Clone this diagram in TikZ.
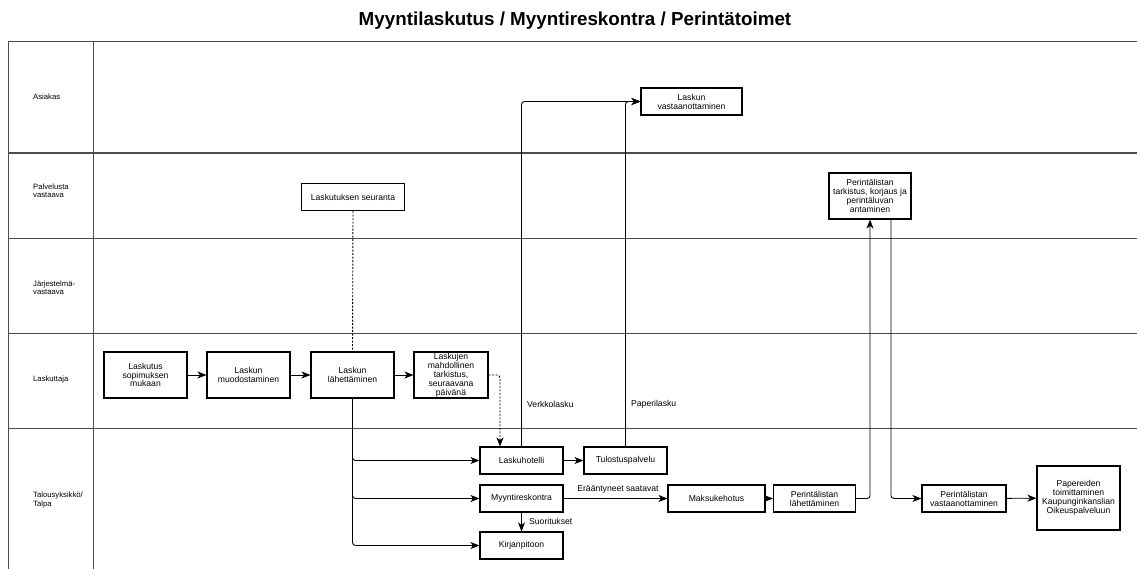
\documentclass[tikz,border=0pt]{standalone}
\usepackage{fontspec}
\setmainfont{Liberation Sans}
\usetikzlibrary{arrows.meta}
\begin{document}
\begin{tikzpicture}[x=1pt,y=-1pt,
  box/.style={draw,line width=1.1pt,align=center,inner sep=1pt,
    font=\fontsize{8.6}{8.9}\selectfont},
  lane/.style={draw=black!70,line width=1pt},
  lanelabel/.style={anchor=west,align=left,inner sep=0pt,
    font=\fontsize{7.7}{8.3}\selectfont},
  lbl/.style={inner sep=0pt,font=\fontsize{8.6}{9}\selectfont},
  tip/.style={-{Stealth[length=9pt,width=7pt,inset=2.5pt]}},
  conn/.style={line width=0.9pt,rounded corners=3pt},
  arr/.style={conn,tip},
  dots/.style={line width=0.9pt,dash pattern=on 2pt off 1.5pt}]
\useasboundingbox (0,0) rectangle (1137,568);

% title
\node[inner sep=0pt,font=\fontsize{18.8}{22}\bfseries\selectfont] (title) at (575,21)
  {Myyntilaskutus / Myyntireskontra / Perintätoimet};

% swimlanes
\draw[lane] (1140,41) -- (8,41) -- (8,570);
\draw[lane] (93,41) -- (93,570);
\draw[lane,line width=1.4pt] (8,153) -- (1140,153);
\foreach \yy in {238,333,428} \draw[lane] (8,\yy) -- (1140,\yy);

\node[lanelabel] (l1) at (33,97) {Asiakas};
\node[lanelabel] (l2) at (33,191) {Palvelusta\\vastaava};
\node[lanelabel] (l3) at (33,288) {Järjestelmä-\\vastaava};
\node[lanelabel] (l4) at (33,380) {Laskuttaja};
\node[lanelabel] (l5) at (33,500) {Talousyksikkö/\\Talpa};

% process steps
\node[box,minimum width=101pt,minimum height=27pt] (vast) at (691.5,101.5) {Laskun\\vastaanottaminen};
\node[box,minimum width=103pt,minimum height=27pt] (seur) at (353,197) {Laskutuksen seuranta};
\node[box,minimum width=82pt,minimum height=46pt] (ptark) at (870,196) {Perintälistan\\tarkistus, korjaus ja\\perintäluvan\\antaminen};
\node[box,minimum width=83pt,minimum height=46pt] (lsop) at (145.5,375) {Laskutus\\sopimuksen\\mukaan};
\node[box,minimum width=83pt,minimum height=46pt] (lmuod) at (248.5,375) {Laskun\\muodostaminen};
\node[box,minimum width=83pt,minimum height=46pt] (llah) at (352.5,375) {Laskun\\lähettäminen};
\node[box,minimum width=74pt,minimum height=46pt,inner sep=0pt] (ltark) at (451,375) {Laskujen\\mahdollinen\\tarkistus,\\seuraavana\\päivänä};
\node[box,minimum width=83pt,minimum height=27pt] (lhot) at (521.5,460.5) {Laskuhotelli};
\node[box,minimum width=83pt,minimum height=27pt] (tulo) at (625.5,460.5) {Tulostuspalvelu};
\node[box,minimum width=83pt,minimum height=27pt] (myre) at (521.5,498.5) {Myyntireskontra};
\node[box,minimum width=83pt,minimum height=27pt] (kirj) at (521.5,545.5) {Kirjanpitoon};
\node[box,minimum width=97pt,minimum height=27pt] (maks) at (716.5,498.5) {Maksukehotus};
\node[box,minimum width=82pt,minimum height=27pt] (plah) at (814.5,498.5) {Perintälistan\\lähettäminen};
\node[box,minimum width=84pt,minimum height=27pt] (pvas) at (964,498.5) {Perintälistan\\vastaanottaminen};
\node[box,minimum width=83pt,minimum height=64pt,inner sep=0pt] (pap) at (1078.5,498) {Papereiden\\toimittaminen\\Kaupunginkanslian\\Oikeuspalveluun};

% flow
\draw[arr] (lsop) -- (lmuod);
\draw[arr] (lmuod) -- (llah);
\draw[arr] (llah) -- (ltark);
\draw[dots] (seur.south) -- (llah.north);
\draw[dots,tip,rounded corners=3pt]
  (ltark.east) -| ([xshift=-21.5pt]lhot.north);
\draw[arr] (llah.south) |- (lhot.west);
\draw[arr] (llah.south) |- (myre.west);
\draw[arr] (llah.south) |- (kirj.west);
\draw[arr] (lhot) -- (tulo);
\draw[arr] (lhot.north) |- (vast.west);
\draw[arr] (tulo.north) |- (vast.west);
\draw[arr] (myre) -- (maks);
\draw[arr] (myre) -- (kirj);
\draw[arr] (maks) -- (plah);
\draw[arr] (plah.east) -| (ptark.south);
\draw[arr] ([xshift=21pt]ptark.south) |- (pvas.west);
\draw[arr] (pvas) -- (pap);

% connector labels
\node[lbl,anchor=west] (verkko) at (527,404) {Verkkolasku};
\node[lbl,anchor=west] (paperi) at (631,404) {Paperilasku};
\node[lbl] (eraan) at (618,489) {Erääntyneet saatavat};
\node[lbl,anchor=west] (suor) at (529,521) {Suoritukset};
\end{tikzpicture}
\end{document}
